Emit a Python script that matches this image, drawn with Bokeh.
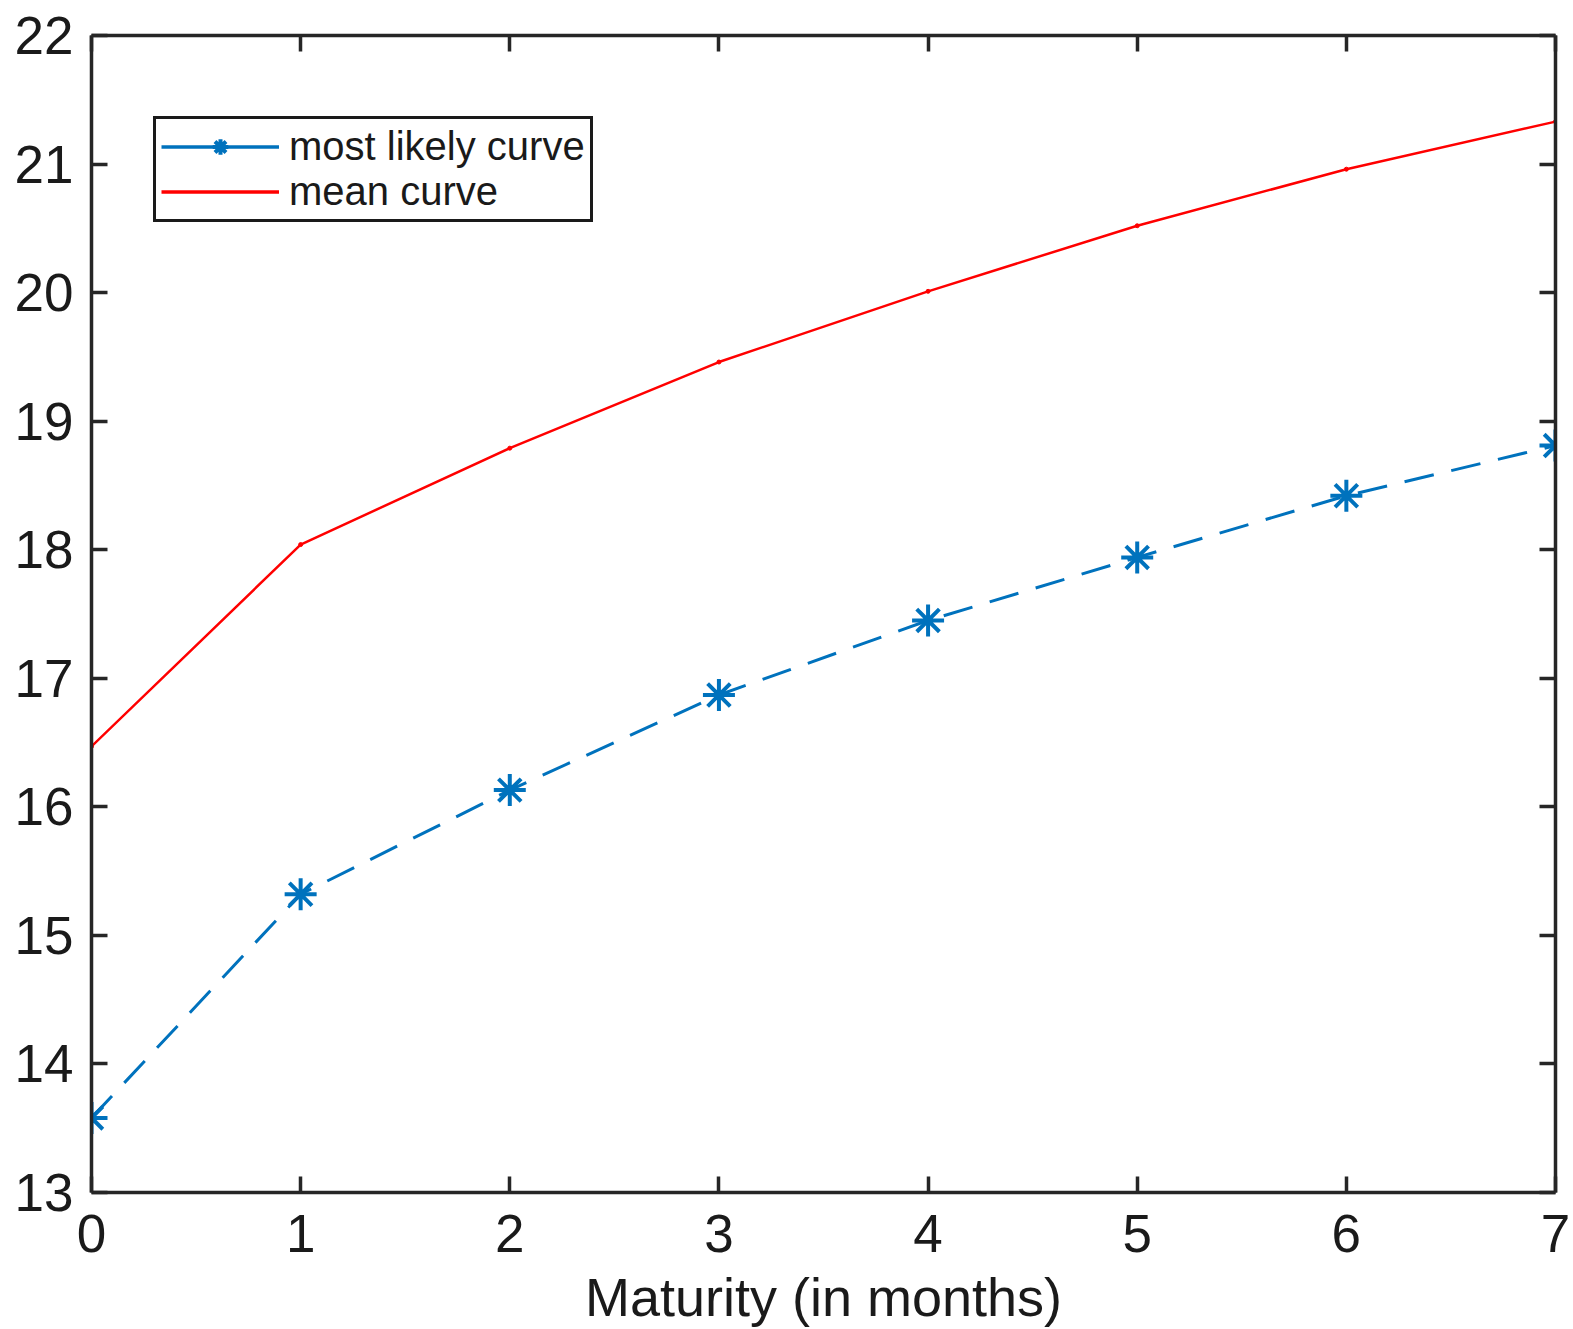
from bokeh.plotting import figure
from bokeh.models import (Range1d, LinearAxis, FixedTicker, Legend, LegendItem,
                          ColumnDataSource)
from bokeh.embed import file_html
from bokeh.resources import INLINE

# ---- data ----
maturity = [0, 1, 2, 3, 4, 5, 6, 7]
most_likely = [13.58, 15.32, 16.13, 16.87, 17.45, 17.94, 18.42, 18.81]
mean_curve = [16.47, 18.04, 18.79, 19.46, 20.01, 20.52, 20.96, 21.33]
x_ticks = [0, 1, 2, 3, 4, 5, 6, 7]
y_ticks = [13, 14, 15, 16, 17, 18, 19, 20, 21, 22]
x_label = "Maturity (in months)"
labels = ["most likely curve", "mean curve"]

BLUE = "#0072BD"
RED = "#FF0000"
AX = "#262626"
FONT = "Liberation Sans"

p = figure(width=1573, height=1329, output_backend="svg", toolbar_location=None,
           x_range=Range1d(0, 7), y_range=Range1d(13, 22),
           min_border_left=91, min_border_right=18, min_border_top=35,
           min_border_bottom=137)
p.background_fill_color = "white"
p.border_fill_color = "white"
p.outline_line_color = None
p.xgrid.visible = False
p.ygrid.visible = False


def style_axis(ax, ticks, labels_on=True):
    ax.ticker = FixedTicker(ticks=ticks)
    ax.axis_line_color = AX
    ax.axis_line_width = 3.5
    ax.major_tick_line_color = AX
    ax.major_tick_line_width = 3.5
    ax.major_tick_in = 16
    ax.major_tick_out = 0
    ax.minor_tick_line_color = None
    ax.major_label_text_font = FONT
    ax.major_label_text_color = "#1a1a1a"
    if labels_on:
        ax.major_label_text_font_size = "53px"
    else:
        ax.major_label_overrides = {t: "" for t in ticks}
        ax.major_label_text_font_size = "1px"
        ax.major_label_standoff = 0


style_axis(p.xaxis[0], x_ticks)
style_axis(p.yaxis[0], y_ticks)
p.xaxis[0].major_label_standoff = 22
p.yaxis[0].major_label_standoff = 18
p.xaxis[0].axis_label = x_label
p.xaxis[0].axis_label_text_font = FONT
p.xaxis[0].axis_label_text_font_size = "54px"
p.xaxis[0].axis_label_text_font_style = "normal"
p.xaxis[0].axis_label_text_color = "#1a1a1a"
p.xaxis[0].axis_label_standoff = 12

top_ax = LinearAxis()
style_axis(top_ax, x_ticks, labels_on=False)
p.add_layout(top_ax, "above")
right_ax = LinearAxis()
style_axis(right_ax, y_ticks, labels_on=False)
p.add_layout(right_ax, "right")

# ---- series ----
src_b = ColumnDataSource(dict(x=maturity, y=most_likely))
src_r = ColumnDataSource(dict(x=maturity, y=mean_curve))

lr = p.line("x", "y", source=src_r, line_color=RED, line_width=2.5)
sr = p.scatter("x", "y", source=src_r, marker="circle", size=4,
               fill_color=RED, line_color=RED)

p.line("x", "y", source=src_b, line_color=BLUE, line_width=3, line_dash="30 18")
sb = p.scatter("x", "y", source=src_b, marker="asterisk", size=32,
               line_color=BLUE, line_width=4)

# legend proxies (solid lines as in the original legend)
nan = float("nan")
proxy = ColumnDataSource(dict(x=[nan], y=[nan]))
lb = p.line("x", "y", source=proxy, line_color=BLUE, line_width=3.5)
lr2 = p.line("x", "y", source=proxy, line_color=RED, line_width=3.5)

legend = Legend(items=[LegendItem(label=labels[0], renderers=[lb, sb]),
                       LegendItem(label=labels[1], renderers=[lr2])],
                location=(62, 970))
legend.label_text_font = FONT
legend.label_text_font_size = "40px"
legend.label_text_color = "#1a1a1a"
legend.border_line_color = "#1a1a1a"
legend.border_line_alpha = 1
legend.border_line_width = 3.5
legend.background_fill_color = "white"
legend.background_fill_alpha = 1
legend.padding = 5
legend.margin = 0
legend.spacing = 0
legend.glyph_width = 118
legend.glyph_height = 39
legend.label_height = 39
legend.label_standoff = 10
p.add_layout(legend, "center")

open("out.html", "w").write(file_html(p, INLINE))
